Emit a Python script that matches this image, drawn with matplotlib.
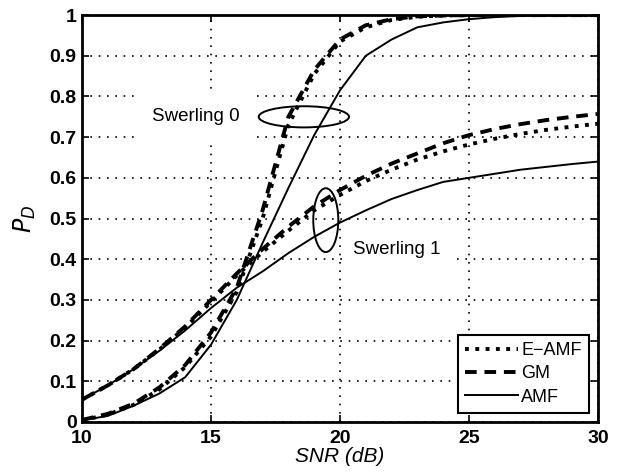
import matplotlib
matplotlib.use('Agg')
import matplotlib.pyplot as plt
from matplotlib.patches import Ellipse

plt.rcParams['font.family'] = ['Liberation Sans', 'DejaVu Sans']

snr = [10, 11, 12, 13, 14, 15, 16, 17, 18, 19, 20,
       21, 22, 23, 24, 25, 26, 27, 28, 29, 30]

# Swerling 0 target
sw0_eamf = [0.004, 0.018, 0.042, 0.08, 0.135, 0.21, 0.32, 0.50, 0.73, 0.855, 0.935,
            0.97, 0.988, 0.996, 0.999, 1.0, 1.0, 1.0, 1.0, 1.0, 1.0]
sw0_gm = [0.005, 0.02, 0.045, 0.085, 0.14, 0.22, 0.33, 0.52, 0.75, 0.865, 0.94,
          0.975, 0.99, 0.997, 0.999, 1.0, 1.0, 1.0, 1.0, 1.0, 1.0]
sw0_amf = [0.004, 0.015, 0.04, 0.07, 0.11, 0.19, 0.30, 0.44, 0.575, 0.705, 0.815,
           0.9, 0.94, 0.97, 0.982, 0.99, 0.995, 0.998, 0.999, 1.0, 1.0]

# Swerling 1 target
sw1_eamf = [0.055, 0.09, 0.13, 0.178, 0.232, 0.295, 0.36, 0.418, 0.47, 0.52, 0.558,
            0.592, 0.62, 0.645, 0.665, 0.682, 0.696, 0.708, 0.718, 0.726, 0.733]
sw1_gm = [0.055, 0.09, 0.13, 0.18, 0.235, 0.30, 0.365, 0.425, 0.48, 0.53, 0.57,
          0.605, 0.635, 0.66, 0.685, 0.705, 0.72, 0.732, 0.742, 0.75, 0.757]
sw1_amf = [0.055, 0.09, 0.13, 0.175, 0.225, 0.28, 0.33, 0.37, 0.415, 0.455, 0.49,
           0.52, 0.548, 0.57, 0.59, 0.60, 0.61, 0.62, 0.627, 0.634, 0.64]

fig = plt.figure(figsize=(6.17, 4.72), dpi=100)
ax = fig.add_axes([0.133, 0.106, 0.836, 0.862])

ax.plot(snr, sw0_eamf, color='k', linestyle=':', linewidth=2.8, label='E\u2212AMF')
ax.plot(snr, sw0_gm, color='k', linestyle='--', linewidth=2.8, dashes=(3, 2), label='GM')
ax.plot(snr, sw0_amf, color='k', linestyle='-', linewidth=1.4, label='AMF')
ax.plot(snr, sw1_eamf, color='k', linestyle=':', linewidth=2.8)
ax.plot(snr, sw1_gm, color='k', linestyle='--', linewidth=2.8, dashes=(3, 2))
ax.plot(snr, sw1_amf, color='k', linestyle='-', linewidth=1.4)

ax.set_xlim(10, 30)
ax.set_ylim(0, 1)
ax.set_xticks([10, 15, 20, 25, 30])
ax.set_yticks([0, 0.1, 0.2, 0.3, 0.4, 0.5, 0.6, 0.7, 0.8, 0.9, 1])
ax.set_yticklabels(['0', '0.1', '0.2', '0.3', '0.4', '0.5', '0.6', '0.7', '0.8', '0.9', '1'])
ax.tick_params(direction='in', top=True, right=True, length=5, width=1.2,
               labelsize=14, pad=4)
ax.tick_params(axis='x', pad=6)
for lab in ax.get_xticklabels() + ax.get_yticklabels():
    lab.set_fontweight('bold')
for sp in ax.spines.values():
    sp.set_linewidth(2)

ax.grid(True, color='k', linestyle=(0, (1, 4)), linewidth=1.2)

ax.set_xlabel('SNR (dB)', fontsize=15, fontstyle='italic', labelpad=0)
ax.set_ylabel('$P_D$', fontsize=17, labelpad=8)

# labels with white boxes over the grid
ax.text(14.4, 0.75, 'Swerling 0', fontsize=13.5, ha='center', va='center',
        bbox=dict(facecolor='white', edgecolor='none', pad=10), zorder=3)
ax.text(20.5, 0.425, 'Swerling 1', fontsize=13.5, ha='left', va='center',
        bbox=dict(facecolor='white', edgecolor='none', pad=8), zorder=3)

ax.add_patch(Ellipse((18.6, 0.75), 3.5, 0.052, fill=False, edgecolor='k',
                     linewidth=1.4, zorder=4))
ax.add_patch(Ellipse((19.45, 0.496), 0.97, 0.157, fill=False, edgecolor='k',
                     linewidth=1.4, zorder=4))

leg = ax.legend(loc='lower right', fontsize=13, handlelength=2.9,
                handletextpad=0.2, labelspacing=0.35, borderpad=0.4,
                fancybox=False, framealpha=1, edgecolor='k',
                borderaxespad=0.5)
leg.get_frame().set_linewidth(1.5)

fig.savefig('out.png', dpi=100)
